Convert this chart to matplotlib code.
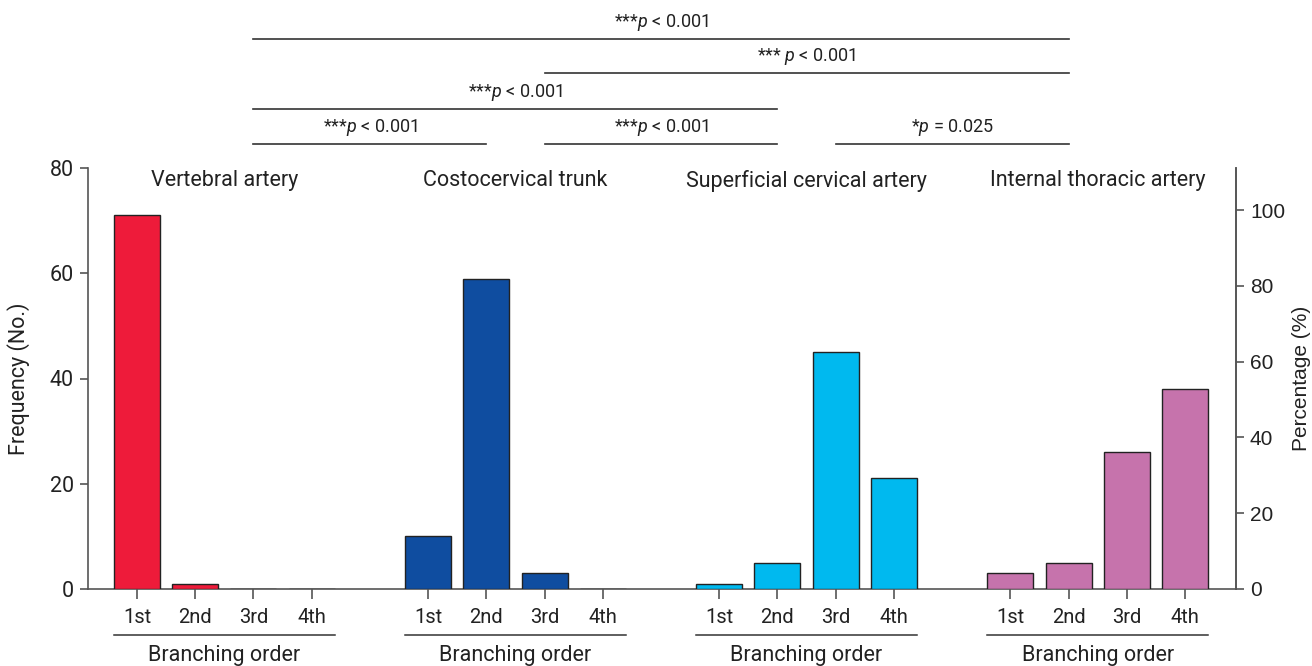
import matplotlib
matplotlib.use("Agg")
import matplotlib.pyplot as plt
import matplotlib.transforms as mtransforms

arteries = ["Vertebral artery", "Costocervical trunk", "Superficial cervical artery", "Internal thoracic artery"]
orders = ["1st", "2nd", "3rd", "4th"]
vertebral = [71, 1, 0, 0]
costocervical = [10, 59, 3, 0]
superficial = [1, 5, 45, 21]
internal = [3, 5, 26, 38]
series = [vertebral, costocervical, superficial, internal]
colors = ["#EE1B3A", "#0F4DA0", "#00B9EF", "#C673AC"]
total = 72

# significance comparisons: (group a, group b, label, level)
comparisons = [
    (0, 3, "***$p$ < 0.001", 0),
    (1, 3, "*** $p$ < 0.001", 1),
    (0, 2, "***$p$ < 0.001", 2),
    (0, 1, "***$p$ < 0.001", 3),
    (1, 2, "***$p$ < 0.001", 3),
    (2, 3, "*$p$ = 0.025", 3),
]

main_font = "Roboto"
plt.rcParams['font.family'] = [main_font, 'DejaVu Sans']
plt.rcParams['mathtext.fontset'] = 'custom'
plt.rcParams['mathtext.it'] = main_font + ':italic'
plt.rcParams['mathtext.rm'] = main_font

fig = plt.figure(figsize=(13.12, 6.66), dpi=100)
ax = fig.add_axes([88/1312, 1-589/666, (1236-88)/1312, (589-168)/666])

gstep = 5
width = 0.79
edge = "#222222"
for g, vals in enumerate(series):
    xs = [g*gstep + i for i in range(len(vals))]
    ax.bar(xs, vals, width=width, color=colors[g], edgecolor=edge, linewidth=1.0, zorder=3)

ax.set_xlim(-0.842, 18.877)
ax.set_ylim(0, 80)

spine_c = "#555555"
ax.spines["top"].set_visible(False)
for s in ["left", "right", "bottom"]:
    ax.spines[s].set_color(spine_c)
    ax.spines[s].set_linewidth(1.2)

ax.set_yticks([0, 20, 40, 60, 80])
ax.tick_params(axis='y', length=6, width=1.2, color=spine_c, labelsize=15.5, pad=4, labelcolor="#222222")
ax.set_ylabel("Frequency (No.)", fontsize=15.5, color="#222222", labelpad=14)

xt = [g*gstep + i for g in range(4) for i in range(4)]
ax.set_xticks(xt)
ax.set_xticklabels(orders*4)
ax.tick_params(axis='x', length=7, width=1.2, color=spine_c, labelsize=14.5, pad=7, labelcolor="#222222")

trans = mtransforms.blended_transform_factory(ax.transData, ax.transAxes)
for g in range(4):
    cx = g*gstep + 1.5
    ax.text(cx, 0.97, arteries[g], transform=trans, ha='center', va='center', fontsize=15.5, color="#222222")
    ax.plot([g*gstep - 0.4, g*gstep + 3.4], [-0.109, -0.109], transform=trans, color="#333333", lw=1.1, clip_on=False)
    ax.text(cx, -0.158, "Branching order", transform=trans, ha='center', va='center', fontsize=15.5, color="#222222")

levels_y = [(589-39)/421, (589-73)/421, (589-109)/421, (589-144)/421]
for a, b, lab, lev in comparisons:
    x0 = a*gstep + 2
    x1 = b*gstep + 1
    y = levels_y[lev]
    ax.plot([x0, x1], [y, y], transform=trans, color="#333333", lw=1.2, clip_on=False)
    ax.text((x0+x1)/2, y + 0.04, lab, transform=trans, ha='center', va='center', fontsize=13, color="#222222")

ax2 = ax.twinx()
ax2.set_ylim(0, 80/total*100)
ax2.set_yticks([0, 20, 40, 60, 80, 100])
for s in ["top", "left", "bottom"]:
    ax2.spines[s].set_visible(False)
ax2.spines["right"].set_color(spine_c)
ax2.spines["right"].set_linewidth(1.2)
ax2.tick_params(axis='y', length=6, width=1.2, color=spine_c, labelsize=15, pad=4, labelcolor="#222222")
for t in ax2.get_yticklabels():
    t.set_fontfamily("Liberation Sans")
ax2.set_ylabel("Percentage (%)", fontsize=15, color="#222222", family="Liberation Sans", labelpad=5)

fig.savefig("out.png", dpi=100)
